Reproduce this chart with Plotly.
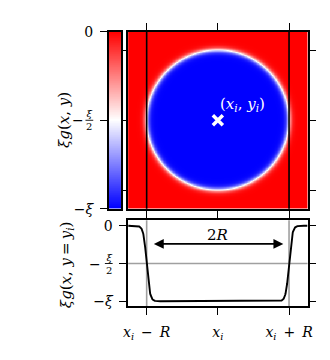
import numpy as np
import plotly.graph_objects as go

# ---- data / parameters ----
R = 1.0              # droplet radius (x_i ± R)
xi = 1.0             # depth ξ
width = 0.045        # interface width
extent = 1.26        # half-size of the shown domain
tick_pos = [-1.0, 0.0, 1.0]
x_ticktext = ["<i>x<sub>i</sub></i>\u2002−\u2002<i>R</i>", "<i>x<sub>i</sub></i>",
              "<i>x<sub>i</sub></i>\u2002+\u2002<i>R</i>"]
val_ticks = [0.0, -0.5, -1.0]
val_ticktext = ["0", "", "−<i>ξ</i>"]
center_label = "(<i>x<sub>i</sub></i>, <i>y<sub>i</sub></i>)"

W, H = 330, 360
FONT = "DejaVu Serif"

def px_x(p):
    return p / W

def px_y(p):
    return 1 - p / H

def profile(r):
    return -xi * 0.5 * (1 - np.tanh((r - R) / width))

# 2D field
n = 300
gx = np.linspace(-extent, extent, n)
gy = np.linspace(-extent, extent, n)
XX, YY = np.meshgrid(gx, gy)
Z = profile(np.sqrt(XX ** 2 + YY ** 2))

# 1D cut
cx = np.linspace(-extent, extent, 800)
cy = profile(np.abs(cx))

# colorbar values
cb_vals = np.linspace(-xi, 0, 256)

bwr = [[0, "rgb(0,0,255)"], [0.5, "rgb(255,255,255)"], [1, "rgb(255,0,0)"]]

fig = go.Figure()
fig.add_trace(go.Heatmap(x=gx, y=gy, z=Z, colorscale=bwr, zmin=-xi, zmax=0,
                         showscale=False, xaxis="x", yaxis="y", hoverinfo="skip"))
fig.add_trace(go.Heatmap(x=[-0.25, 0.25], y=cb_vals, z=[[v, v] for v in cb_vals],
                         colorscale=bwr, zmin=-xi, zmax=0, showscale=False,
                         xaxis="x3", yaxis="y3", hoverinfo="skip"))
fig.add_trace(go.Scatter(x=[0], y=[0], mode="markers", xaxis="x", yaxis="y",
                         marker=dict(symbol="x-thin", size=10, line=dict(color="white", width=3.5)),
                         showlegend=False))
fig.add_trace(go.Scatter(x=cx, y=cy, mode="lines", xaxis="x2", yaxis="y2",
                         line=dict(color="black", width=1.9), showlegend=False))

hm_dom_x = [px_x(127), px_x(312)]
hm_dom_y = [px_y(210), px_y(25)]
bt_dom_y = [px_y(312), px_y(222)]

ax_common = dict(showgrid=False, zeroline=False, showline=True, linecolor="black",
                 linewidth=1.5, ticks="outside", ticklen=7, tickwidth=1.3,
                 tickcolor="black", tickfont=dict(family=FONT, size=14, color="black"))

fig.update_layout(
    width=W, height=H, autosize=False, margin=dict(l=0, r=0, t=0, b=0),
    paper_bgcolor="white", plot_bgcolor="white", showlegend=False,
    xaxis=dict(domain=hm_dom_x, range=[-extent, extent], anchor="y", tickvals=tick_pos,
               showticklabels=False, mirror="ticks", **ax_common),
    yaxis=dict(domain=hm_dom_y, range=[-extent, extent], anchor="x", tickvals=tick_pos,
               showticklabels=False, mirror="ticks", **ax_common),
    xaxis2=dict(domain=hm_dom_x, range=[-extent, extent], anchor="y2", tickvals=tick_pos,
                ticktext=x_ticktext, mirror="ticks", ticklabelstandoff=5, **ax_common),
    yaxis2=dict(domain=bt_dom_y, range=[-1.065, 0.075], anchor="x2", tickvals=val_ticks,
                ticktext=val_ticktext, mirror="ticks", ticklabelstandoff=4, **ax_common),
    xaxis3=dict(domain=[px_x(107), px_x(120)], range=[-0.5, 0.5], anchor="y3",
                showticklabels=False, showgrid=False, zeroline=False, showline=True,
                linecolor="black", linewidth=1.5, mirror=True, ticks=""),
    yaxis3=dict(domain=hm_dom_y, range=[-xi, 0], anchor="x3", tickvals=val_ticks,
                ticktext=val_ticktext, mirror=True, ticklabelstandoff=4, **ax_common),
)

shapes = []
for xv in [-R, R]:
    shapes.append(dict(type="line", xref="x", yref="y domain", x0=xv, x1=xv, y0=0, y1=1,
                       line=dict(color="black", width=1.6), layer="above"))
    shapes.append(dict(type="line", xref="x2", yref="y2 domain", x0=xv, x1=xv, y0=0, y1=1,
                       line=dict(color="#a0a0a0", width=1.6), layer="below"))
shapes.append(dict(type="line", xref="x2 domain", yref="y2", x0=0, x1=1, y0=-0.5, y1=-0.5,
                   line=dict(color="#a0a0a0", width=1.6), layer="below"))
# fraction bars for -ξ/2 labels
shapes.append(dict(type="line", xref="paper", yref="y3", x0=px_x(83), x1=px_x(91),
                   y0=-0.5, y1=-0.5, line=dict(color="black", width=0.9)))
shapes.append(dict(type="line", xref="paper", yref="y2", x0=px_x(103), x1=px_x(111),
                   y0=-0.5, y1=-0.5, line=dict(color="black", width=0.9)))
fig.update_layout(shapes=shapes)

ann = []
f15 = dict(family=FONT, size=15, color="black")
# -ξ/2 labels (colorbar and bottom axis)
for xm, xf, yref in [(75, 87, "y3"), (93, 107, "y2")]:
    ann.append(dict(x=px_x(xm), y=-0.5, xref="paper", yref=yref, text="−", showarrow=False,
                    font=dict(family=FONT, size=14, color="black"), xanchor="center", yanchor="middle"))
    ann.append(dict(x=px_x(xf), y=-0.5, xref="paper", yref=yref, text="<i>ξ</i><br>2",
                    showarrow=False, font=dict(family=FONT, size=10, color="black"),
                    xanchor="center", yanchor="middle"))
# axis titles
ann.append(dict(x=px_x(61), y=px_y(117), xref="paper", yref="paper", textangle=-90,
                text="<i>ξg</i>(<i>x</i>, <i>y</i>)", showarrow=False, font=f15,
                xanchor="center", yanchor="middle"))
ann.append(dict(x=px_x(63), y=px_y(269), xref="paper", yref="paper", textangle=-90,
                text="<i>ξg</i>(<i>x</i>, <i>y</i>\u2009=\u2009<i>y<sub>i</sub></i>)", showarrow=False,
                font=f15, xanchor="center", yanchor="middle"))
# center label
ann.append(dict(x=0.0, y=0.23, xref="x", yref="y", text=center_label, showarrow=False,
                font=dict(family=FONT, size=15, color="white"), xanchor="left", yanchor="middle"))
# 2R arrow
ann.append(dict(x=0.92, y=-0.24, ax=-0.92, ay=-0.24, xref="x2", yref="y2", axref="x2", ayref="y2",
                text="", showarrow=True, arrowside="end+start", arrowhead=2, arrowsize=1.1,
                arrowwidth=1.8, arrowcolor="black"))
ann.append(dict(x=0, y=-0.125, xref="x2", yref="y2", text="2<i>R</i>", showarrow=False,
                font=f15, xanchor="center", yanchor="middle"))
fig.update_layout(annotations=ann)

fig.write_html("out.html")
